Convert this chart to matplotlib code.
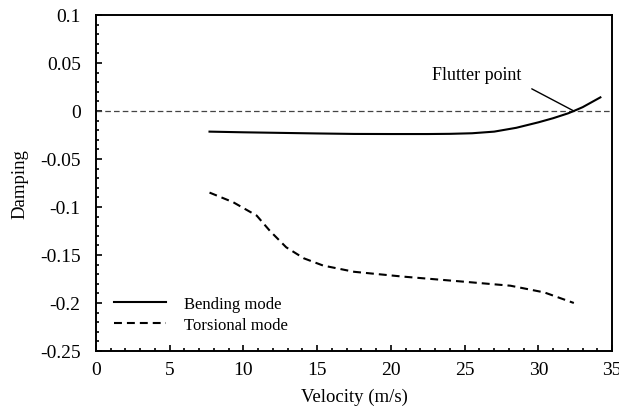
import matplotlib
matplotlib.use('Agg')
import matplotlib.pyplot as plt
from matplotlib.ticker import MultipleLocator

# data
bend_v = [7.7, 10, 12.5, 15, 17.5, 20, 22.5, 24, 25.5, 27, 28.5, 30, 31, 32, 32.4, 33, 34.2]
bend_d = [-0.0215, -0.0222, -0.0228, -0.0234, -0.0239, -0.024, -0.024, -0.0238, -0.0232,
          -0.0215, -0.0175, -0.0118, -0.0075, -0.0025, 0.0, 0.004, 0.0142]

tors_v = [7.7, 9.3, 10.9, 11.8, 12.9, 14.1, 15.4, 17.5, 20.8, 24.7, 28.1, 30.4, 32.4]
tors_d = [-0.085, -0.095, -0.109, -0.125, -0.142, -0.1535, -0.161, -0.1675, -0.1725,
          -0.1775, -0.182, -0.189, -0.200]

flutter_v = 32.4
flutter_d = 0.0

plt.rcParams['font.family'] = ['Liberation Serif', 'DejaVu Serif']
plt.rcParams['font.size'] = 13

fig = plt.figure(figsize=(6.19, 4.10), dpi=100)
ax = fig.add_axes([0.155, 0.1415, 0.834, 0.8195])

ax.axhline(0, color='#444444', lw=0.9, linestyle=(0, (4.5, 2.5)))
ax.plot(bend_v, bend_d, color='black', lw=1.5, label='Bending mode')
ax.plot(tors_v, tors_d, color='black', lw=1.5, linestyle=(0, (3.8, 2.4)), label='Torsional mode')

ax.annotate('Flutter point', xy=(flutter_v, flutter_d), xytext=(22.8, 0.0375),
            ha='left', va='center', fontsize=13,
            arrowprops=dict(arrowstyle='-', lw=1, color='black',
                            relpos=(1.0, 0.0), shrinkA=6, shrinkB=0))

ax.set_xlim(0, 35)
ax.set_ylim(-0.25, 0.1)
ax.xaxis.set_major_locator(MultipleLocator(5))
ax.xaxis.set_minor_locator(MultipleLocator(1))
ax.yaxis.set_minor_locator(MultipleLocator(0.01))
ax.set_yticks([0.1, 0.05, 0, -0.05, -0.1, -0.15, -0.2, -0.25])
ax.set_yticklabels(['0.1', '0.05', '0', '-0.05', '-0.1', '-0.15', '-0.2', '-0.25'])
ax.tick_params(which='both', direction='in', top=False, right=False, width=1.2, labelsize=14)
ax.tick_params(axis='x', which='major', length=4, pad=7)
ax.tick_params(axis='y', which='major', length=4, pad=11)
ax.tick_params(which='minor', length=2.5)
for s in ax.spines.values():
    s.set_linewidth(1.4)

ax.set_xlabel('Velocity (m/s)', labelpad=7, fontsize=13.5)
ax.set_ylabel('Damping', labelpad=8, fontsize=13.5)

ax.legend(loc='lower left', bbox_to_anchor=(0.035, 0.054), frameon=False,
          borderaxespad=0, borderpad=0, handlelength=3.1, handletextpad=1.1,
          labelspacing=0.3, fontsize=12)

fig.savefig('out.png', dpi=100)
